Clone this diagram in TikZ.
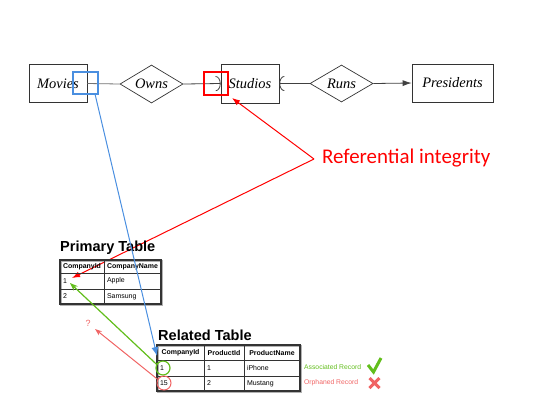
\documentclass[tikz,border=0pt]{standalone}
\usepackage{fontspec}
\setmainfont{Liberation Serif}
\newfontfamily\arialf{Liberation Sans}
\newfontfamily\calif{Carlito}
\usetikzlibrary{shapes.geometric,arrows.meta}
\definecolor{bluesq}{HTML}{4A8FE0}
\definecolor{grn}{HTML}{62BE1C}
\definecolor{pnk}{HTML}{F06464}
\definecolor{tabline}{HTML}{333333}
\begin{document}
\begin{tikzpicture}[x=1bp,y=-1bp,
  entbox/.style={draw=black!80, line width=0.7bp, inner sep=0, font=\itshape\fontsize{14.5}{16}\selectfont},
  reldia/.style={draw=black!80, line width=0.7bp, diamond, aspect=1.7, inner sep=0, font=\itshape\fontsize{14.5}{16}\selectfont},
  erline/.style={draw=black!75, line width=0.8bp},
  markbox/.style={line width=2.5bp, inner sep=0},
  cell/.style n args={3}{draw=tabline, line width=0.6bp, inner xsep=3bp, inner ysep=0, text width=#1, minimum height=#2, align=#3, font=\arialf\fontsize{7}{8}\selectfont},
  hcell/.style n args={2}{cell={#1}{#2}{center}, font=\arialf\bfseries\fontsize{7}{8}\selectfont},
  dcell/.style n args={2}{cell={#1}{#2}{left}},
  tabtitle/.style={anchor=west, inner sep=0, font=\arialf\bfseries\fontsize{14.6}{16}\selectfont},
  outer/.style={draw=tabline, line width=1.8bp},
  shadow/.style={draw=black!30, line width=1.5bp},
  redarr/.style={draw=red, line width=1bp, -{Latex[length=8bp,width=6bp]}},
]
\path[use as bounding box] (0,0) rectangle (546,405);

% ER diagram
\node[entbox, minimum width=58bp, minimum height=38bp] (movies) at (58,83.5) {Movies};
\node[reldia, minimum width=63bp, minimum height=38bp] (owns) at (151.5,84) {Owns};
\node[entbox, minimum width=58bp, minimum height=39bp] (studios) at (250,83.5) {Studios};
\node[reldia, minimum width=63bp, minimum height=37bp] (runs) at (341.5,83.5) {Runs};
\node[entbox, minimum width=81bp, minimum height=38bp] (presidents) at (452.5,83) {Presidents};

\draw[erline, draw=black!55] (movies.east) -- (owns.west);
\draw[erline, -{Arc Barb[width=15bp,length=5bp]}] (owns.east) -- (studios.west);
\draw[erline, -{Arc Barb[width=15bp,length=5bp]}] (runs.west) -- (studios.east);
\draw[erline, -{Latex[length=9bp,width=6bp]}] (runs.east) -- (presidents.west);

\node[markbox, draw=bluesq, minimum width=25bp, minimum height=22bp] (bsq) at (85.5,83) {};
\node[markbox, draw=red, minimum width=24bp, minimum height=23bp] (rsq) at (216,83.5) {};

% Referential integrity
\node[anchor=west, text=red, inner sep=0, font=\calif\fontsize{21}{24}\selectfont] (ri) at (322,158) {Referential integrity};
\coordinate (rv) at (314,159);
\coordinate (rt1) at (232,98);
\coordinate (rt2) at (72,278);
\draw[redarr] (rv) -- (rt1);
\draw[redarr] (rv) -- (rt2);

% Primary table
\node[tabtitle] (ptitle) at (60,248) {Primary Table};
\draw[shadow] (61,261) rectangle (162,305);
\node[hcell={38bp}{13bp}] (ph1) at (82,266.5) {CompanyId};
\node[hcell={51bp}{13bp}] (ph2) at (132.5,266.5) {CompanyName};
\node[dcell={38bp}{16bp}] (p11) at (82,281) {1};
\node[dcell={51bp}{16bp}] (p12) at (132.5,281) {Apple};
\node[dcell={38bp}{15bp}] (p21) at (82,296.5) {2};
\node[dcell={51bp}{15bp}] (p22) at (132.5,296.5) {Samsung};
\draw[outer] (60,260) rectangle (161,304);

% Related table
\node[tabtitle] (rtitle) at (158,335) {Related Table};
\draw[shadow] (158,346) rectangle (301,392);
\node[hcell={41bp}{15bp}] (rh1) at (180.5,352.5) {CompanyId};
\node[hcell={34bp}{15bp}] (rh2) at (224,352.5) {ProductId};
\node[hcell={50bp}{15bp}] (rh3) at (272,352.5) {ProductName};
\node[dcell={41bp}{16bp}] (r11) at (180.5,368) {1};
\node[dcell={34bp}{16bp}] (r12) at (224,368) {1};
\node[dcell={50bp}{16bp}] (r13) at (272,368) {iPhone};
\node[dcell={41bp}{15bp}] (r21) at (180.5,383.5) {15};
\node[dcell={34bp}{15bp}] (r22) at (224,383.5) {2};
\node[dcell={50bp}{15bp}] (r23) at (272,383.5) {Mustang};
\draw[outer] (157,345) rectangle (300,391);

% circles
\node[circle, draw=grn, line width=1.2bp, minimum size=14bp, inner sep=0] (gc) at (163,368) {};
\node[circle, draw=pnk, line width=1bp, minimum size=14bp, inner sep=0] (pc) at (164,383) {};

% blue connector
\coordinate (bs) at (95,94);
\coordinate (bt) at (157,356);
\draw[draw=bluesq, line width=1bp, -{Latex[length=9bp,width=7bp]}] (bs) -- (bt);

% green connector
\coordinate (gt) at (70,283);
\draw[draw=grn, line width=1.2bp, -{Stealth[length=8bp,width=6bp]}] (gc.150) -- (gt);

% pink connector
\coordinate (pt) at (95,329);
\draw[draw=pnk, line width=1bp, -{Stealth[length=7bp,width=5bp]}] (pc.150) -- (pt);
\node[text=pnk, inner sep=0, font=\arialf\fontsize{9}{10}\selectfont] (qm) at (88,323) {?};

% legend
\node[anchor=west, inner sep=0, text=grn, font=\arialf\fontsize{6.8}{8}\selectfont] (assoc) at (304,367) {Associated Record};
\node[anchor=west, inner sep=0, text=pnk, font=\arialf\fontsize{6.8}{8}\selectfont] (orph) at (304,383) {Orphaned Record};
\draw[draw=grn, line width=3bp] (368,365) -- (373.5,372) -- (381,358);
\draw[draw=pnk, line width=3bp] (369.5,378) -- (379.5,388) (379.5,378) -- (369.5,388);
\end{tikzpicture}
\end{document}
